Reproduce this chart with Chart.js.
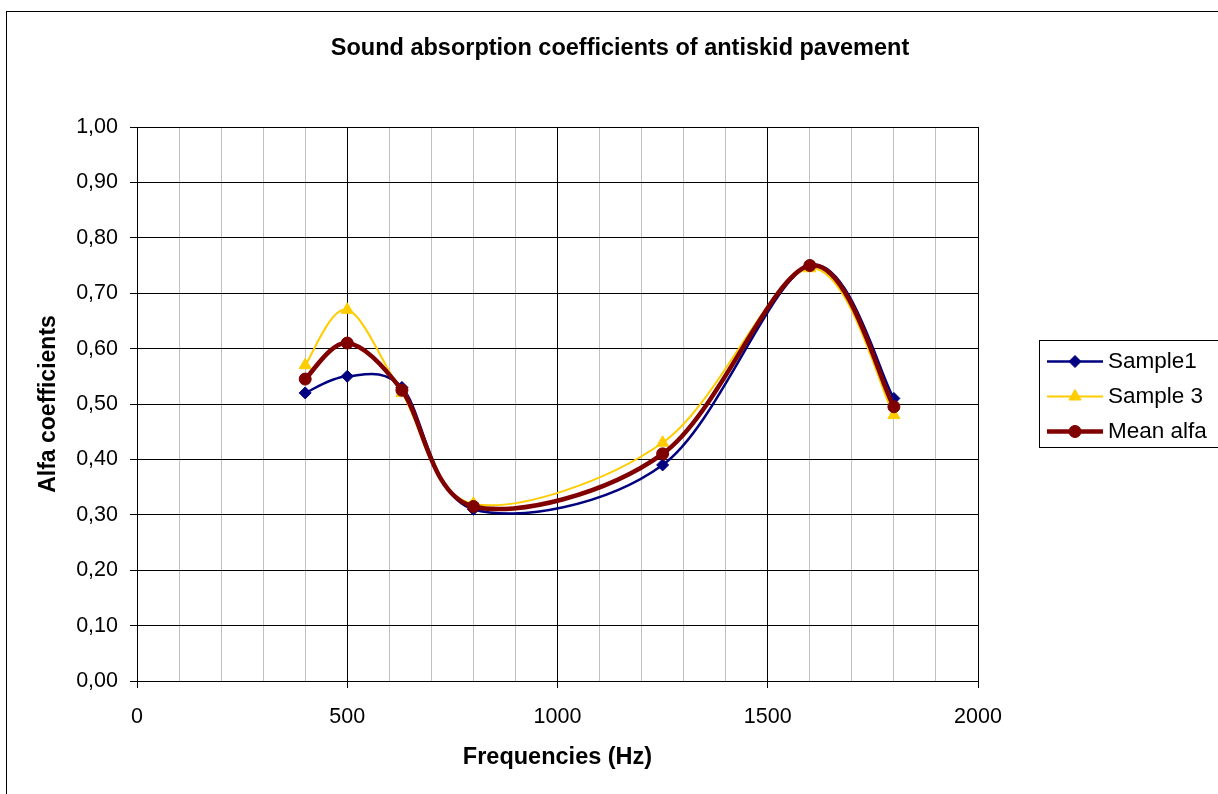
<!DOCTYPE html>
<html>
<head>
<meta charset="utf-8">
<script src="https://cdn.jsdelivr.net/npm/chart.js@4/dist/chart.umd.min.js"></script>
<style>
html,body{margin:0;padding:0;background:#fff;}
#wrap{position:relative;width:1218px;height:794px;}
</style>
</head>
<body>
<div id="wrap"><canvas id="c"></canvas></div>
<script>
// ---- data ----
const chartTitle = 'Sound absorption coefficients of antiskid pavement';
const xAxisTitle = 'Frequencies (Hz)';
const yAxisTitle = 'Alfa coefficients';
const frequencies = [400, 500, 630, 800, 1250, 1600, 1800];
const sample1 = [0.52, 0.55, 0.53, 0.31, 0.39, 0.75, 0.51];
const sample3 = [0.57, 0.67, 0.52, 0.32, 0.43, 0.745, 0.48];
const meanAlfa = [0.545, 0.61, 0.525, 0.315, 0.41, 0.75, 0.495];
const seriesNames = ['Sample1', 'Sample 3', 'Mean alfa'];
const seriesColors = ['#000080', '#FFCC00', '#800000'];
const seriesMarkers = ['rectRot', 'triangle', 'circle'];
const xMajorStep = 500;

const FONT = '"Liberation Sans", Arial, Helvetica, sans-serif';
Chart.defaults.font.family = FONT;
Chart.defaults.color = '#000';

function toPoints(vals) { return frequencies.map((f, i) => ({ x: f, y: vals[i] })); }

function drawMarker(ctx, style, x, y, r, color) {
  ctx.save();
  ctx.fillStyle = color; ctx.strokeStyle = color; ctx.lineWidth = 1;
  if (Chart.helpers && Chart.helpers.drawPoint) {
    Chart.helpers.drawPoint(ctx, { pointStyle: style, radius: r, rotation: 0, borderWidth: 1 }, x, y);
  } else {
    ctx.beginPath(); ctx.arc(x, y, r, 0, Math.PI * 2); ctx.fill(); ctx.stroke();
  }
  ctx.restore();
}

// Excel-like smoothing: Bezier control points from neighbouring points (tension 1/6)
const excelSmoothPlugin = {
  id: 'excelSmooth',
  beforeDatasetDraw(chart, args) {
    const meta = args.meta;
    const line = meta.dataset;
    const pts = meta.data;
    if (!line || !pts || pts.length < 2) return;
    const n = pts.length;
    const f = 1 / 6;
    const dist = (a, b) => Math.hypot(b.x - a.x, b.y - a.y);
    for (let i = 0; i < n - 1; i++) {
      const p1 = pts[i], p2 = pts[i + 1];
      const p0 = i > 0 ? pts[i - 1] : p1;
      const p3 = i < n - 2 ? pts[i + 2] : p2;
      const d12 = dist(p1, p2), d02 = dist(p0, p2), d13 = dist(p1, p3);
      let f1 = f, f2 = f;
      if (d02 * f > d12 / 2) f1 = d12 / (2 * d02);
      if (d13 * f > d12 / 2) f2 = d12 / (2 * d13);
      p1.cp2x = p1.x + (p2.x - p0.x) * f1;
      p1.cp2y = p1.y + (p2.y - p0.y) * f1;
      p2.cp1x = p2.x - (p3.x - p1.x) * f2;
      p2.cp1y = p2.y - (p3.y - p1.y) * f2;
    }
    pts[0].cp1x = pts[0].x; pts[0].cp1y = pts[0].y;
    pts[n - 1].cp2x = pts[n - 1].x; pts[n - 1].cp2y = pts[n - 1].y;
    line._pointsUpdated = true;
    line._path = undefined;
  }
};

const decorPlugin = {
  id: 'decor',
  beforeDraw(chart) {
    const ctx = chart.ctx;
    ctx.save();
    ctx.fillStyle = '#fff';
    ctx.fillRect(0, 0, chart.width, chart.height);
    ctx.strokeStyle = '#000'; ctx.lineWidth = 1;
    ctx.strokeRect(6.5, 11.5, 1400, 1000);
    ctx.restore();
  },
  afterDraw(chart) {
    const ctx = chart.ctx;
    ctx.save();
    ctx.fillStyle = '#000';
    ctx.font = 'bold 23.5px ' + FONT;
    ctx.textAlign = 'center'; ctx.textBaseline = 'middle';
    ctx.fillText(chartTitle, 620, 49);
    ctx.strokeStyle = '#000'; ctx.lineWidth = 1;
    ctx.strokeRect(1039.5, 340.5, 400, 107);
    chart.data.datasets.forEach((ds, i) => {
      const y = 361.5 + i * 35;
      ctx.save();
      ctx.strokeStyle = ds.borderColor; ctx.lineWidth = ds.borderWidth;
      ctx.beginPath(); ctx.moveTo(1047, y); ctx.lineTo(1103, y); ctx.stroke();
      ctx.restore();
      drawMarker(ctx, ds.pointStyle, 1075, y, ds.pointRadius, ds.backgroundColor);
      ctx.fillStyle = '#000';
      ctx.font = '22.5px ' + FONT;
      ctx.textAlign = 'left'; ctx.textBaseline = 'middle';
      ctx.fillText(ds.label, 1108, y);
    });
    ctx.restore();
  }
};

const seriesData = [sample1, sample3, meanAlfa];
const widths = [2.5, 2, 4.5];
const radii = [6, 7, 6];
const orders = [2, 1, 0];

const datasets = seriesData.map((vals, i) => ({
  label: seriesNames[i],
  data: toPoints(vals),
  borderColor: seriesColors[i],
  backgroundColor: seriesColors[i],
  borderWidth: widths[i],
  pointStyle: seriesMarkers[i],
  pointRadius: radii[i],
  pointBorderWidth: 1,
  pointBackgroundColor: seriesColors[i],
  pointBorderColor: seriesColors[i],
  tension: 0.4,
  fill: false,
  order: orders[i]
}));

const isMajor = v => Math.abs(v % xMajorStep) < 1e-6;

new Chart(document.getElementById('c'), {
  type: 'line',
  data: { datasets },
  options: {
    responsive: true,
    maintainAspectRatio: false,
    animation: false,
    devicePixelRatio: 1,
    layout: { padding: { top: 127, right: 240, bottom: 0, left: 0 } },
    plugins: {
      legend: { display: false },
      title: { display: false },
      tooltip: { enabled: false }
    },
    scales: {
      x: {
        type: 'linear',
        min: 0, max: 2000,
        ticks: {
          stepSize: 100, autoSkip: false, maxRotation: 0, padding: 16.6,
          font: { size: 21.5 }, color: '#000',
          callback: v => isMajor(v) ? String(v) : ''
        },
        grid: {
          color: c => (c.tick && isMajor(c.tick.value)) ? '#000' : '#c0c0c0',
          lineWidth: 1,
          tickLength: 7,
          tickColor: c => (c.tick && isMajor(c.tick.value)) ? '#000' : 'rgba(0,0,0,0)'
        },
        border: { color: '#000', width: 1 },
        title: {
          display: true, text: xAxisTitle, color: '#000',
          font: { size: 23.5, weight: 'bold' },
          padding: { top: 0, bottom: 22 }
        },
        afterFit(s) { s.height = 113; }
      },
      y: {
        min: 0, max: 1,
        ticks: {
          stepSize: 0.1, padding: 12, font: { size: 21.5 }, color: '#000',
          callback: v => Number(v).toFixed(2).replace('.', ',')
        },
        grid: { color: '#000', lineWidth: 1, tickLength: 7, tickColor: '#000' },
        border: { color: '#000', width: 1 },
        title: {
          display: true, text: yAxisTitle, color: '#000',
          font: { size: 23, weight: 'bold' },
          padding: { top: 35, bottom: 0 }
        },
        afterFit(s) { s.width = 137; }
      }
    }
  },
  plugins: [excelSmoothPlugin, decorPlugin]
});
</script>
</body>
</html>
